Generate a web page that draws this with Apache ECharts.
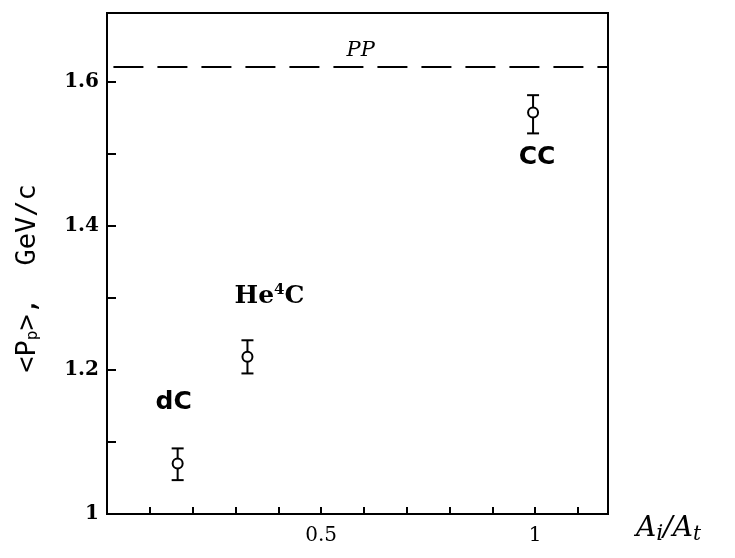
<!DOCTYPE html>
<html><head><meta charset="utf-8">
<script src="https://cdn.jsdelivr.net/npm/echarts@6/dist/echarts.min.js"></script>
<style>html,body{margin:0;padding:0;background:#fff}#c{width:735px;height:558px}</style>
</head><body><div id="c"></div>
<script>
// data
const reactions = ['dC', 'He{sup|4}C', 'CC'];
const xValues = [0.165, 0.328, 0.995];      // Ai/At
const yValues = [1.07, 1.218, 1.557];        // <Pp>, GeV/c
const yLow = [1.047, 1.195, 1.528];
const yHigh = [1.091, 1.241, 1.581];
const ppLevel = 1.62;
const xTickLabels = {'0.5': '0.5', '1': '1'};
const yTickLabels = {'1': '1', '1.2': '1.2', '1.4': '1.4', '1.6': '1.6'};

const labelOffsets = [[-4, -61], [22, -60], [4, 45]];
const chart = echarts.init(document.getElementById('c'));
const ink = '#000';
const tickFont = {color: ink, fontFamily: 'DejaVu Serif', fontSize: 20, fontWeight: 'bold'};

chart.setOption({
  animation: false,
  backgroundColor: '#fff',
  grid: {left: 107, top: 13, right: 127, bottom: 44, show: true, borderColor: ink, borderWidth: 2, backgroundColor: 'transparent'},
  xAxis: {
    type: 'value', min: 0, max: 1.17, interval: 0.1,
    axisLine: {show: true, lineStyle: {color: ink, width: 2}},
    axisTick: {show: true, inside: true, length: 7, lineStyle: {color: ink, width: 2}},
    splitLine: {show: false},
    axisLabel: {
      ...tickFont, fontWeight: 'normal', margin: 12, showMaxLabel: false,
      formatter: v => { const k = String(Math.round(v * 10) / 10); return xTickLabels[k] || ''; }
    },
    name: 'A{s|i}/A{t|t}', nameLocation: 'end', nameGap: 28,
    nameTextStyle: {
      color: ink, fontFamily: 'DejaVu Serif', fontStyle: 'italic', fontSize: 28,
      padding: [30, 0, 0, 0],
      rich: {
        s: {fontFamily: 'DejaVu Serif', fontStyle: 'italic', fontSize: 22, color: ink, verticalAlign: 'bottom'},
        t: {fontFamily: 'DejaVu Serif', fontStyle: 'italic', fontSize: 20, color: ink, padding: [12, 0, 0, 0]}
      }
    }
  },
  yAxis: {
    type: 'value', min: 1, max: 1.695, interval: 0.1,
    axisLine: {show: true, lineStyle: {color: ink, width: 2}},
    axisTick: {show: true, inside: true, length: 9, lineStyle: {color: ink, width: 2}},
    splitLine: {show: false},
    axisLabel: {
      ...tickFont, margin: 8, showMaxLabel: false,
      formatter: v => { const k = String(Math.round(v * 10) / 10); return yTickLabels[k] || ''; }
    },
    name: '<P{sub|p}>,  GeV/c', nameLocation: 'middle', nameGap: 66, nameRotate: 90,
    nameTextStyle: {
      color: ink, fontFamily: 'DejaVu Sans Mono', fontSize: 27,
      padding: [0, 0, 0, -30],
      rich: {sub: {fontFamily: 'DejaVu Sans Mono', fontSize: 16, color: ink, verticalAlign: 'bottom', padding: [8, 0, 0, 0]}}
    }
  },
  series: [
    {
      type: 'custom',
      data: xValues.map((x, i) => [x, yLow[i], yHigh[i]]),
      renderItem: (params, api) => {
        const lo = api.coord([api.value(0), api.value(1)]);
        const hi = api.coord([api.value(0), api.value(2)]);
        const w = 6;
        const st = {stroke: ink, lineWidth: 2};
        return {type: 'group', children: [
          {type: 'line', shape: {x1: lo[0], y1: lo[1], x2: hi[0], y2: hi[1]}, style: st},
          {type: 'line', shape: {x1: lo[0] - w, y1: lo[1], x2: lo[0] + w, y2: lo[1]}, style: st},
          {type: 'line', shape: {x1: hi[0] - w, y1: hi[1], x2: hi[0] + w, y2: hi[1]}, style: st}
        ]};
      },
      z: 2
    },
    {
      type: 'scatter',
      symbol: 'circle', symbolSize: 10,
      itemStyle: {color: '#fff', borderColor: ink, borderWidth: 2, opacity: 1},
      data: xValues.map((x, i) => ({
        value: [x, yValues[i]],
        label: {
          show: true, position: 'inside', offset: labelOffsets[i],
          formatter: reactions[i],
          color: ink, opacity: 1, fontWeight: 'bold',
          fontFamily: i === 1 ? 'DejaVu Serif' : 'DejaVu Sans', fontSize: 25,
          rich: {sup: {fontSize: 15, fontWeight: 'bold', color: ink, fontFamily: 'DejaVu Serif', verticalAlign: 'top', padding: [0, 0, 14, 0]}}
        }
      })),
      z: 3,
      markLine: {
        silent: true, symbol: 'none',
        lineStyle: {color: ink, width: 2, type: [30, 14]},
        label: {
          show: true, position: 'insideMiddleTop', formatter: 'PP',
          color: ink, fontFamily: 'DejaVu Serif', fontStyle: 'italic', fontSize: 21, distance: 6
        },
        data: [[{coord: [0.015, ppLevel]}, {coord: [1.17, ppLevel]}]]
      }
    }
  ]
});
</script></body></html>
